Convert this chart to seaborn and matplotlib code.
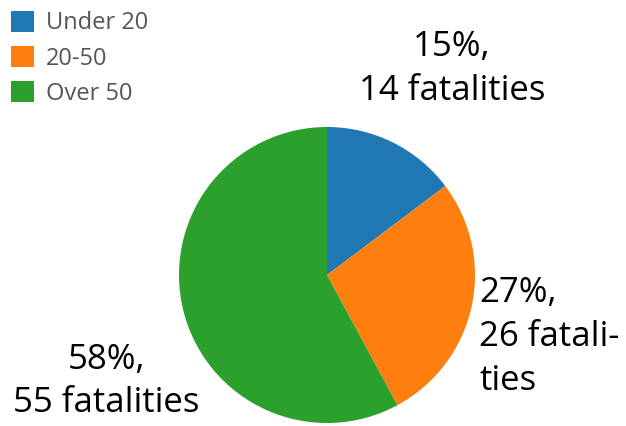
import matplotlib
matplotlib.use('Agg')

import matplotlib.pyplot as plt
from matplotlib.patches import Patch
import seaborn as sns

# data
groups = ['Under 20', '20-50', 'Over 50']
fatalities = [14, 26, 55]
label_texts = ['15%,\n14 fatalities', '27%,\n26 fatali-\nties', '58%,\n55 fatalities']

sns.set_style('white')
plt.rcParams['font.family'] = ['Open Sans', 'DejaVu Sans']

colors = sns.color_palette('tab10', 3)

fig = plt.figure(figsize=(6.26, 4.26), dpi=100)
# pie centre at about (327, 275) px, radius about 148 px
r_px = 148
ax = fig.add_axes([(327 - r_px) / 626, (426 - 275 - r_px) / 426, 2 * r_px / 626, 2 * r_px / 426])

wedges, _ = ax.pie(fatalities, colors=colors, startangle=90, counterclock=False,
                   radius=1, wedgeprops=dict(linewidth=0))
ax.set_xlim(-1, 1)
ax.set_ylim(-1, 1)
ax.set_aspect('equal')
ax.axis('off')

# slice labels, placed beside their wedges
label_pos = [(0.845, 1.39, 'center'), (1.03, -0.42, 'left'), (-1.49, -0.72, 'center')]
for txt, (x, y, ha) in zip(label_texts, label_pos):
    ax.text(x, y, txt, ha=ha, va='center', fontsize=25, color='black',
            linespacing=1.38, clip_on=False)

handles = [Patch(facecolor=c, edgecolor='none') for c in colors]
leg = fig.legend(handles, groups, loc='upper left', bbox_to_anchor=(0.0, 1.0),
                 frameon=False, fontsize=17, handlelength=1.0, handleheight=1.0,
                 handletextpad=0.5, labelspacing=0.45, borderaxespad=0.15,
                 borderpad=0.3)
for t in leg.get_texts():
    t.set_color('#555555')

plt.savefig('out.png', dpi=100)
plt.close()
